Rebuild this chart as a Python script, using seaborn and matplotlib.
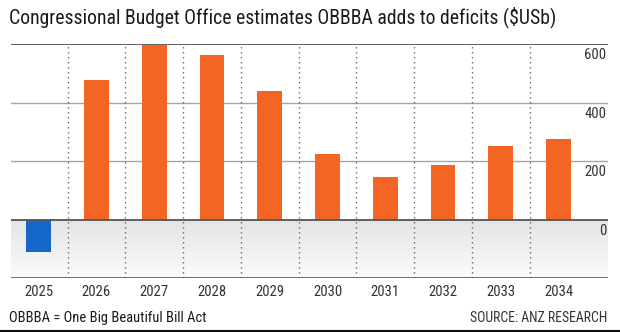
import numpy as np
import pandas as pd
import matplotlib
matplotlib.use("Agg")
import matplotlib.pyplot as plt
from matplotlib import font_manager
from matplotlib.colors import LinearSegmentedColormap
import seaborn as sns

# ---- data ----
years = ["2025", "2026", "2027", "2028", "2029", "2030", "2031", "2032", "2033", "2034"]
deficit_add = [-111, 478, 597, 562, 439, 226, 147, 186, 254, 276]
y_ticks = [0, 200, 400, 600]
title = "Congressional Budget Office estimates OBBBA adds to deficits ($USb)"
note = "OBBBA = One Big Beautiful Bill Act"
source = "SOURCE: ANZ RESEARCH"

ORANGE = "#F26522"
BLUE = "#1467C9"

sns.set_theme(style="white")
names = {f.name for f in font_manager.fontManager.ttflist}
fam = None
for cand in ["Liberation Sans Narrow", "Roboto Condensed", "Open Sans", "Roboto", "DejaVu Sans"]:
    if cand in names:
        fam = cand
        break
plt.rcParams["font.family"] = [fam, "DejaVu Sans"]

W, H = 620, 332
fig = plt.figure(figsize=(W / 100, H / 100), dpi=100)
fig.patch.set_facecolor("white")
ax = fig.add_axes([11 / W, 1 - 278.3 / H, (607.7 - 11) / W, (278.3 - 44.3) / H])

df = pd.DataFrame({"year": years, "value": deficit_add})
df["sign"] = np.where(df["value"] < 0, "neg", "pos")
sns.barplot(data=df, x="year", y="value", hue="sign", palette={"neg": BLUE, "pos": ORANGE},
            dodge=False, legend=False, width=0.43, ax=ax, saturation=1, zorder=3,
            edgecolor="none", linewidth=0)

ymin, ymax = -200, 600
xl = (-0.48, 9.85)

# shaded region below zero (gradient)
grad = np.linspace(0, 1, 100).reshape(-1, 1)
cmap = LinearSegmentedColormap.from_list("g", ["#e3e4e6", "#fbfbfb"])
ax.imshow(grad, aspect="auto", cmap=cmap, extent=(xl[0], xl[1], ymin, 0), origin="upper", zorder=0)
ax.set_xlim(*xl)
ax.set_ylim(ymin, ymax)

# horizontal grid lines
for v in y_ticks:
    if v in (0, 600):
        ax.axhline(v, color="#555555", lw=1.3, zorder=4 if v == 0 else 2)
    else:
        ax.axhline(v, color="#a5a5a5", lw=1.0, zorder=1)
ax.axhline(ymin, color="#555555", lw=1.2, zorder=4)

# vertical dotted separators between categories
for k in range(len(years) - 1):
    ax.axvline(k + 0.5, color="#666666", lw=1.0, ls=(0, (1, 2.6)), zorder=2)

for s in ax.spines.values():
    s.set_visible(False)

ax.set_xlabel("")
ax.set_ylabel("")
ax.set_yticks([])
ax.tick_params(axis="x", length=0, pad=5, labelsize=10.5, colors="#333333")

for v in y_ticks:
    ax.annotate(str(v), xy=(1, v), xycoords=("axes fraction", "data"), xytext=(-1, -3),
                textcoords="offset points", ha="right", va="top", fontsize=10.5, color="#333333")

fig.canvas.draw()
r = fig.canvas.get_renderer()

def fit_text(x, y, s, width_px, size0, **kw):
    t = fig.text(x / W, 1 - y / H, s, fontsize=size0, **kw)
    bb = t.get_window_extent(renderer=r)
    t.set_fontsize(size0 * width_px / bb.width)
    return t

fit_text(9, 17, title, 546, 13, ha="left", va="center", color="#1a1a1a")
fit_text(9, 318, note, 196, 10, ha="left", va="center", color="#1a1a1a")
fit_text(607, 318, source, 137, 9, ha="right", va="center", color="#333333")

# bottom border line
fig.add_artist(plt.Line2D([0, 1], [0.6 / H, 0.6 / H], transform=fig.transFigure, color="#111111", lw=1.5))

fig.savefig("out.png", dpi=100, facecolor="white")
